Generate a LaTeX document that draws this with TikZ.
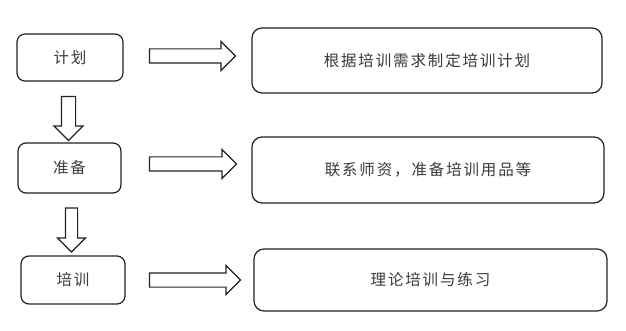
\documentclass[tikz,border=0pt]{standalone}
\usepackage{fontspec}
\setmainfont{Noto Sans CJK SC}[LetterSpace=12]
\usetikzlibrary{shapes.arrows}
\definecolor{planink}{HTML}{222222}
\definecolor{plantext}{HTML}{3A3A3A}
\tikzset{
  pstep/.style={rounded corners=8pt, draw=planink, line width=1.2pt,
                fill=white, align=center, text=plantext,
                font=\fontsize{15.5}{18}\selectfont},
  pwide/.style={pstep, rounded corners=10pt},
  parrow/.style={single arrow, draw=planink, line width=1.2pt, fill=white,
                 inner sep=0pt, inner ysep=6.5pt, minimum width=0pt,
                 single arrow head extend=7.5pt, single arrow tip angle=90},
  pdown/.style={parrow, rotate=-90},
}
\begin{document}
\begin{tikzpicture}[x=1pt,y=-1pt]
\useasboundingbox (0,0) rectangle (626,331);
\node[pstep,minimum width=106pt,minimum height=47pt] (jh) at (70,57.5) {计划};
\node[pstep,minimum width=103pt,minimum height=50pt] (zb) at (69.5,168) {准备};
\node[pstep,minimum width=104pt,minimum height=48pt] (px) at (73,280) {培训};
\node[pwide,minimum width=350pt,minimum height=65pt] (jhr) at (427,60.5) {根据培训需求制定培训计划};
\node[pwide,minimum width=352pt,minimum height=66pt] (zbr) at (428,170) {联系师资，准备培训用品等};
\node[pwide,minimum width=353pt,minimum height=62pt] (pxr) at (430.5,280) {理论培训与练习};
% arrows between the steps
\node[parrow,minimum height=86pt] (a1) at (189,56) {};
\node[parrow,minimum height=87pt] (a2) at (189.5,164) {};
\node[parrow,minimum height=91pt] (a3) at (191.5,280) {};
\node[pdown,minimum height=44pt] (d1) at (68.5,115) {};
\node[pdown,minimum height=44pt,inner ysep=5.5pt,single arrow head extend=8pt] (d2) at (71.5,227) {};
\end{tikzpicture}
\end{document}
